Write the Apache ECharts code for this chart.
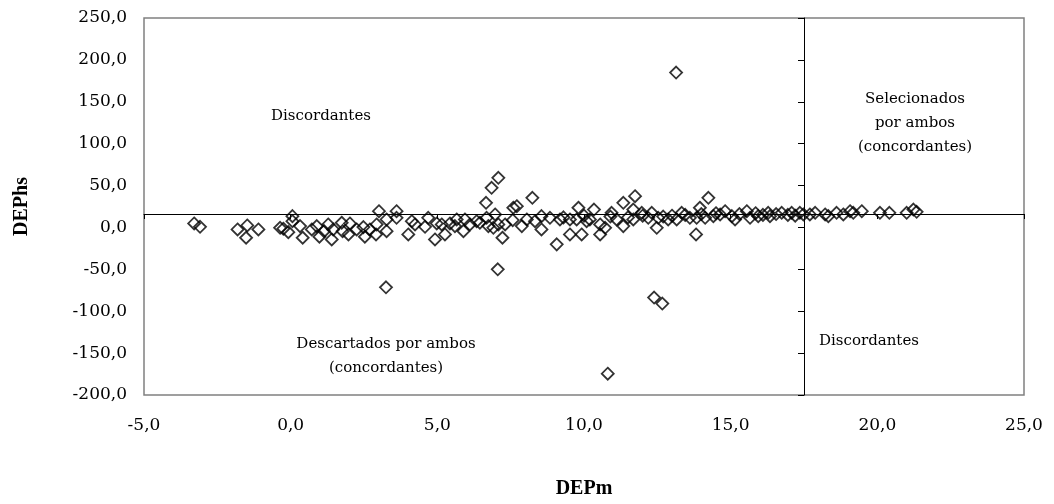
<!DOCTYPE html>
<html>
<head>
<meta charset="utf-8">
<script src="https://cdn.jsdelivr.net/npm/echarts@6/dist/echarts.min.js"></script>
<style>
  html, body { margin: 0; padding: 0; background: #fff; }
  #chart { width: 1054px; height: 504px; }
</style>
</head>
<body>
<div id="chart"></div>
<script>
const depm = [
  -3.29, -3.09, -1.81, -1.48, -1.52, -1.10, -0.36, -0.25, 0.06, 0.06,
  -0.08, 0.32, 0.41, 0.72, 0.89, 0.98, 1.14, 1.28, 1.40, 1.45,
  1.74, 1.77, 2.02, 1.97, 2.25, 2.48, 2.53, 2.70, 2.91, 3.01,
  2.93, 3.27, 3.27, 3.61, 3.61, 4.01, 4.13, 4.24, 4.58, 4.69,
  4.92, 4.98, 5.15, 5.26, 5.43, 5.60, 5.66, 5.89, 5.94, 6.11,
  6.34, 6.45, 6.66, 6.68, 6.74, 6.85, 7.08, 6.97, 6.91, 7.08,
  7.22, 7.31, 7.59, 7.71, 7.57, 7.88, 8.05, 8.24, 8.33, 8.55,
  8.55, 8.84, 9.07, 9.18, 9.52, 9.52, 9.81, 9.75, 9.92, 10.09,
  10.34, 10.20, 10.55, 10.55, 10.72, 10.94, 11.11, 11.34, 11.34, 11.74,
  11.68, 11.68, 11.97, 12.19, 12.31, 12.53, 12.48, 12.87, 13.16, 13.33,
  13.61, 13.84, 13.82, 13.95, 14.24, 14.13, 14.41, 14.64, 14.81, 15.04,
  15.15, 15.55, 15.66, 15.94, 16.28, 16.34, 16.74, 17.08, 17.36, 17.48,
  17.70, 17.88, 18.22, 18.33, 18.61, 18.84, 19.07, 19.18, 19.47, 20.09,
  20.41, 21.00, 21.23, 21.34,
  13.14, 3.25, 7.06, 10.81, 12.39, 12.67,
  13.00, 13.45, 14.00, 14.50, 15.30, 15.85, 16.10, 16.55, 16.95, 17.20,
  9.30, 10.00, 10.90, 11.50, 12.00, 12.70
];
const dephs = [
  4.8, 0.8, -2.4, 2.4, -12.3, -2.4, -0.4, -1.5, 13.5, 7.5,
  -5.6, 1.6, -12.3, -2.4, 1.6, -11.1, -4.4, 3.6, -14.3, -2.4,
  5.6, -4.4, 4.8, -8.3, -2.4, 0.4, -11.1, -2.4, -8.3, 19.4,
  3.6, 9.5, -4.4, 19.4, 11.5, -8.3, 7.5, 3.6, 0.8, 11.5,
  -14.3, 4.8, 3.6, -8.3, 4.8, 1.6, 9.5, -4.4, 9.5, 3.6,
  7.5, 5.6, 29.4, 11.5, 1.6, 47.3, 59.2, 15.5, -0.4, 3.6,
  -12.3, 3.6, 23.5, 25.4, 8.7, 1.6, 9.5, 35.4, 7.5, 13.5,
  -2.4, 11.5, -20.2, 9.5, 9.5, -8.3, 23.5, 9.5, -8.3, 7.5,
  21.4, 9.5, -8.3, 3.6, -0.4, 17.5, 9.5, 29.4, 1.6, 37.3,
  21.4, 9.5, 17.5, 11.5, 17.5, 11.5, -0.4, 9.5, 9.5, 17.5,
  11.5, 11.5, -8.3, 23.5, 35.4, 11.5, 13.5, 15.5, 19.4, 13.5,
  9.5, 19.4, 11.5, 13.5, 17.5, 13.5, 17.5, 17.5, 17.5, 15.5,
  15.5, 17.5, 15.5, 13.5, 17.5, 15.5, 19.4, 17.5, 19.4, 17.5,
  17.5, 17.5, 21.4, 18.7,
  184.9, -71.4, -50.0, -174.6, -83.7, -90.8,
  14.0, 15.0, 16.0, 17.0, 16.0, 17.0, 15.0, 16.0, 15.0, 14.0,
  12.0, 14.0, 13.0, 12.0, 14.0, 13.0
];

// where the two reference lines cross the plot
const cutX = 17.5;
const cutY = 16;

const points = depm.map((x, i) => [x, dephs[i]]);

function comma(v) {
  return v.toFixed(1).replace('.', ',');
}

const labelFont = 'DejaVu Serif';
const textFont = 'DejaVu Serif';
const titleFont = 'Liberation Serif';
const noteStyle = { font: '15px "' + textFont + '"', fill: '#000', align: 'center', verticalAlign: 'middle', lineHeight: 24 };

var chart = echarts.init(document.getElementById('chart'));
var option = {
  animation: false,
  backgroundColor: '#fff',
  grid: {
    left: 144, right: 30, top: 18, bottom: 108,
    show: true, borderColor: '#808080', borderWidth: 1.5
  },
  xAxis: [
    {
      type: 'value', min: -5, max: 25, interval: 5,
      axisLine: { show: false, onZero: false },
      axisTick: { show: false },
      splitLine: { show: false },
      axisLabel: { formatter: comma, color: '#000', fontFamily: labelFont, fontSize: 17, margin: 22 },
      name: 'DEPm', nameLocation: 'middle', nameGap: 84,
      nameTextStyle: { color: '#000', fontFamily: titleFont, fontWeight: 'bold', fontSize: 20 }
    },
    {
      // horizontal line at cutY, ticks every 5 pointing down
      type: 'value', min: -5 - cutX, max: 25 - cutX, interval: 5, position: 'bottom',
      axisLine: { show: true, onZero: true, onZeroAxisIndex: 1, lineStyle: { color: '#000', width: 1 } },
      axisTick: { show: true, length: 5, lineStyle: { color: '#000', width: 1 } },
      axisLabel: { show: false },
      splitLine: { show: false }
    }
  ],
  yAxis: [
    {
      type: 'value', min: -200, max: 250, interval: 50,
      axisLine: { show: false, onZero: false },
      axisTick: { show: false },
      splitLine: { show: false },
      axisLabel: { formatter: comma, color: '#000', fontFamily: labelFont, fontSize: 17, margin: 17 },
      name: 'DEPhs', nameLocation: 'middle', nameGap: 112, nameRotate: 90,
      nameTextStyle: { color: '#000', fontFamily: titleFont, fontWeight: 'bold', fontSize: 20 }
    },
    {
      // vertical line at cutX, ticks every 50 pointing left
      type: 'value', min: -200 - cutY, max: 250 - cutY, interval: 50, position: 'left',
      axisLine: { show: true, onZero: true, onZeroAxisIndex: 1, lineStyle: { color: '#000', width: 1 } },
      axisTick: { show: true, length: 6, lineStyle: { color: '#000', width: 1 } },
      axisLabel: { show: false },
      splitLine: { show: false }
    }
  ],
  graphic: [
    { type: 'text', x: 321, y: 116, style: Object.assign({ text: 'Discordantes' }, noteStyle) },
    { type: 'text', x: 915, y: 123, style: Object.assign({ text: 'Selecionados\npor ambos\n(concordantes)' }, noteStyle) },
    { type: 'text', x: 386, y: 356, style: Object.assign({ text: 'Descartados por ambos\n(concordantes)' }, noteStyle) },
    { type: 'text', x: 869, y: 341, style: Object.assign({ text: 'Discordantes' }, noteStyle) }
  ],
  series: [{
    type: 'scatter',
    xAxisIndex: 0,
    yAxisIndex: 0,
    symbol: 'diamond',
    symbolSize: 12,
    itemStyle: { color: 'rgba(0,0,0,0)', borderColor: '#000', borderWidth: 1.8 },
    data: points
  }]
};

chart.setOption(option);
</script>
</body>
</html>
